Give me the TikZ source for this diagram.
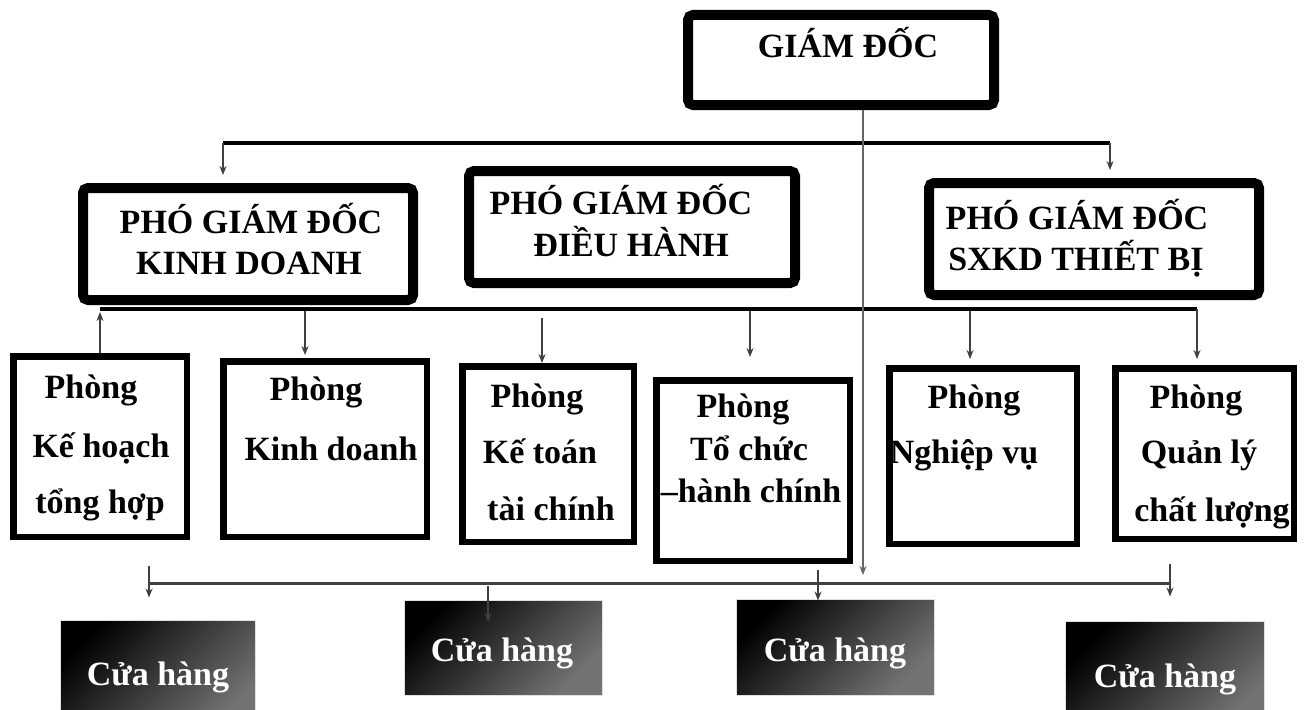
\documentclass[tikz,border=0pt]{standalone}
\usepackage{fontspec}
\setmainfont{Liberation Serif}
\usetikzlibrary{arrows.meta}
\begin{document}
\begin{tikzpicture}[x=1pt,y=-1pt,
  bigbox/.style={draw=black, line width=10pt, rounded corners=5pt, fill=white, inner sep=0pt},
  smallbox/.style={draw=black, line width=6.5pt, fill=white, inner sep=0pt},
  shop/.style={draw=black!12, line width=1pt, top color=black, bottom color=black!55, shading angle=45, inner sep=0pt},
  tx/.style={font=\fontsize{34}{40}\selectfont\bfseries, anchor=base, inner sep=0pt},
  wtx/.style={tx, text=white},
  bus/.style={line width=4pt, black},
  lowbus/.style={line width=3pt, black!75},
  link/.style={line width=2.2pt, black!75, -{Stealth[length=9pt,width=7pt]}},
  trunk/.style={line width=2pt, black!60, -{Stealth[length=9pt,width=7pt]}}
]
\useasboundingbox (0,0) rectangle (1305,709);
\fill[white] (0,0) rectangle (1305,709);

% top level boxes
\node[bigbox, minimum width=306pt, minimum height=90pt] (gd) at (841,60) {};
\node[bigbox, minimum width=330pt, minimum height=112pt] (pkd) at (248,244) {};
\node[bigbox, minimum width=326pt, minimum height=112pt] (pdh) at (632,227) {};
\node[bigbox, minimum width=330pt, minimum height=112pt] (psx) at (1094,239) {};

\node[tx] (gdt) at (848,58) {GIÁM ĐỐC};
\node[tx] (pkd1) at (251,233) {PHÓ GIÁM ĐỐC};
\node[tx] (pkd2) at (249,274) {KINH DOANH};
\node[tx] (pdh1) at (621,214) {PHÓ GIÁM ĐỐC};
\node[tx] (pdh2) at (631,256) {ĐIỀU HÀNH};
\node[tx] (psx1) at (1077,229) {PHÓ GIÁM ĐỐC};
\node[tx] (psx2) at (1076,270) {SXKD THIẾT BỊ};

% departments
\node[smallbox, minimum width=173.5pt, minimum height=180.5pt] (kh) at (100,446.5) {};
\node[smallbox, minimum width=203.5pt, minimum height=175.5pt] (kd) at (325,449) {};
\node[smallbox, minimum width=171.5pt, minimum height=175.5pt] (kt) at (548,454) {};
\node[smallbox, minimum width=193.5pt, minimum height=180.5pt] (tc) at (753,470.5) {};
\node[smallbox, minimum width=187.5pt, minimum height=175.5pt] (nv) at (983,456) {};
\node[smallbox, minimum width=178.5pt, minimum height=170.5pt] (ql) at (1204.5,453.5) {};

\node[tx] (kh1) at (91,398) {Phòng};
\node[tx] (kh2) at (101,457) {Kế hoạch};
\node[tx] (kh3) at (100,513) {tổng hợp};
\node[tx] (kd1) at (316,400) {Phòng};
\node[tx] (kd2) at (331,460) {Kinh doanh};
\node[tx] (kt1) at (537,407) {Phòng};
\node[tx] (kt2) at (540,463) {Kế toán};
\node[tx] (kt3) at (551,520) {tài chính};
\node[tx] (tc1) at (743,417) {Phòng};
\node[tx] (tc2) at (749,460) {Tổ chức};
\node[tx] (tc3) at (751,502) {–hành chính};
\node[tx] (nv1) at (974,408) {Phòng};
\node[tx] (nv2) at (964,463) {Nghiệp vụ};
\node[tx] (ql1) at (1196,408) {Phòng};
\node[tx] (ql2) at (1199,463) {Quản lý};
\node[tx] (ql3) at (1212,521) {chất lượng};

% shops
\node[shop, minimum width=195pt, minimum height=110pt] (s1) at (157.5,675) {};
\node[shop, minimum width=198pt, minimum height=95pt] (s2) at (503,647.5) {};
\node[shop, minimum width=198pt, minimum height=96pt] (s3) at (835,647) {};
\node[shop, minimum width=199pt, minimum height=109pt] (s4) at (1164.5,675.5) {};
\node[wtx] (s1t) at (158,685) {Cửa hàng};
\node[wtx] (s2t) at (502,661) {Cửa hàng};
\node[wtx] (s3t) at (835,661) {Cửa hàng};
\node[wtx] (s4t) at (1165,687) {Cửa hàng};

% buses
\coordinate (b1L) at (223,143);
\coordinate (b1R) at (1110,143);
\coordinate (b2L) at (100,309);
\coordinate (b2R) at (1197,309);
\coordinate (b3L) at (149,583);
\coordinate (b3R) at (1170,583);
\coordinate (tb) at (863,575);

\draw[bus] (b1L) -- (b1R);
\draw[bus] (b2L) -- (b2R);
\draw[lowbus] (b3L) -- (b3R);

% trunk from director
\draw[trunk] (gd.south -| tb) -- (tb);

% to deputies
\draw[link, shorten >=8pt] (b1L) -- (pkd.north -| b1L);
\draw[link, shorten >=8pt] (b1R) -- (psx.north -| b1R);

% departments
\draw[link, shorten >=3pt] (kh.north -| b2L) -- (b2L);
\coordinate (d2) at (305,311);
\coordinate (d3) at (542,318);
\coordinate (d4) at (750,311);
\coordinate (d5) at (970,311);
\draw[link, shorten >=3pt] (d2) -- (kd.north -| d2);
\draw[link] (d3) -- (kt.north -| d3);
\draw[link, shorten >=20pt] (d4) -- (tc.north -| d4);
\draw[link, shorten >=6pt] (d5) -- (nv.north -| d5);
\draw[link, shorten >=6pt] (b2R) -- (ql.north -| b2R);

% shops
\coordinate (c1) at (149,566);
\coordinate (c2) at (488,586);
\coordinate (c2e) at (488,622);
\coordinate (c3) at (818,570);
\coordinate (c4) at (1170,564);
\draw[link, shorten >=22pt] (c1) -- (s1.north -| c1);
\draw[link] (c2) -- (c2e);
\draw[link, shorten >=-2pt] (c3) -- (s3.north -| c3);
\draw[link, shorten >=24pt] (c4) -- (s4.north -| c4);
\end{tikzpicture}
\end{document}
